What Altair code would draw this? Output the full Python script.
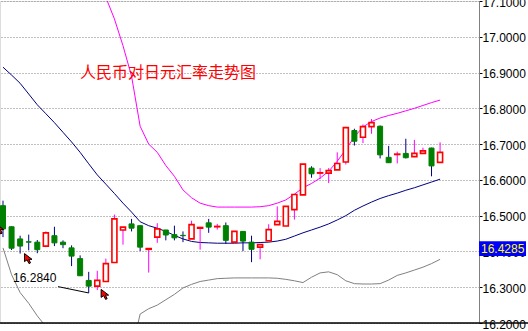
import altair as alt
import pandas as pd

# ---- data ----
opens  = [16.528,16.469,16.435,16.427,16.426,16.415,16.444,16.426,16.410,16.380,
          16.319,16.303,16.316,16.369,16.460,16.477,16.472,16.406,16.440,16.460,
          16.447,16.445,16.435,16.465,16.480,16.469,16.472,16.426,16.456,16.426,
          16.412,16.430,16.475,16.471,16.517,16.558,16.633,16.619,16.619,16.628,
          16.650,16.738,16.719,16.749,16.750,16.663,16.671,16.674,16.665,16.674,
          16.689,16.649]
highs  = [16.542,16.470,16.444,16.447,16.432,16.456,16.469,16.431,16.417,16.389,
          16.343,16.346,16.380,16.503,16.468,16.491,16.472,16.408,16.479,16.460,
          16.472,16.456,16.486,16.467,16.491,16.477,16.481,16.456,16.456,16.444,
          16.419,16.476,16.526,16.527,16.559,16.644,16.638,16.633,16.633,16.677,
          16.746,16.743,16.755,16.770,16.752,16.695,16.679,16.715,16.712,16.690,
          16.690,16.705]
lows   = [16.440,16.404,16.394,16.403,16.395,16.412,16.415,16.409,16.359,16.332,
          16.284,16.292,16.316,16.369,16.419,16.456,16.401,16.341,16.424,16.431,
          16.431,16.426,16.435,16.405,16.452,16.461,16.421,16.426,16.401,16.370,
          16.378,16.430,16.475,16.471,16.489,16.558,16.606,16.603,16.591,16.628,
          16.643,16.696,16.703,16.729,16.660,16.648,16.646,16.660,16.665,16.674,
          16.610,16.649]
closes = [16.463,16.409,16.415,16.426,16.405,16.452,16.424,16.419,16.387,16.332,
          16.303,16.319,16.366,16.491,16.468,16.465,16.412,16.408,16.463,16.446,
          16.438,16.444,16.475,16.467,16.468,16.470,16.431,16.456,16.429,16.406,
          16.419,16.461,16.484,16.526,16.559,16.644,16.617,16.620,16.626,16.646,
          16.746,16.708,16.749,16.760,16.670,16.648,16.672,16.662,16.674,16.681,
          16.639,16.677]

band_upper = [17.40,17.44,17.46,17.45,17.42,17.39,17.36,17.33,17.29,17.25,
              17.21,17.16,17.11,17.05,16.975,16.89,16.75,16.70,16.677,16.64,
              16.61,16.572,16.55,16.535,16.528,16.524,16.524,16.524,16.524,16.524,
              16.525,16.528,16.535,16.544,16.56,16.578,16.59,16.605,16.624,16.652,
              16.685,16.72,16.748,16.763,16.773,16.78,16.786,16.793,16.80,16.808,
              16.816,16.823]
band_mid   = [16.915,16.893,16.870,16.84,16.81,16.785,16.76,16.733,16.706,16.677,
              16.645,16.614,16.588,16.562,16.535,16.51,16.483,16.472,16.465,16.456,
              16.445,16.435,16.428,16.425,16.424,16.423,16.423,16.423,16.424,16.424,
              16.425,16.426,16.429,16.434,16.443,16.452,16.46,16.468,16.477,16.488,
              16.50,16.515,16.527,16.538,16.548,16.556,16.563,16.571,16.578,16.586,
              16.594,16.602]
band_lower = [16.41,16.335,16.285,16.255,16.22,16.19,16.16,16.13,16.10,16.08,
              16.06,16.06,16.07,16.09,16.11,16.12,16.225,16.24,16.25,16.265,
              16.28,16.298,16.308,16.316,16.32,16.324,16.325,16.326,16.326,16.326,
              16.326,16.326,16.325,16.322,16.318,16.313,16.328,16.34,16.343,16.335,
              16.318,16.31,16.309,16.309,16.31,16.32,16.333,16.34,16.348,16.356,
              16.366,16.378]

y_ticks = [16.2, 16.3, 16.4, 16.5, 16.6, 16.7, 16.8, 16.9, 17.0, 17.1]
title_text = "人民币对日元汇率走势图"
low_label = "16.2840"
low_label_pos = [1.17, 16.326]          # index, value of the label
low_line_x = [6.42, 10]                  # leader line from label to the low candle
low_line_y = [16.3017, 16.284]
arrow_idx = [-0.45, 2.86, 11.8]
arrow_val = [16.463, 16.380, 16.280]
last_price = 16.4285
last_price_text = "16.4285"

# ---- tables ----
n = len(opens)
idx = list(range(n))
candles = pd.DataFrame({"i": idx, "o": opens, "h": highs, "l": lows, "c": closes})
candles["dir"] = ["up" if c >= o else "down" for o, c in zip(opens, closes)]
up = candles[candles["dir"] == "up"]
down = candles[candles["dir"] == "down"]

bands = pd.concat([
    pd.DataFrame({"i": idx, "v": band_upper, "band": "upper"}),
    pd.DataFrame({"i": idx, "v": band_mid, "band": "mid"}),
    pd.DataFrame({"i": idx, "v": band_lower, "band": "lower"}),
])

RED = "#FF0000"
GREEN = "#008000"

xs = alt.Scale(domain=[-0.35, 55.54], nice=False, zero=False, padding=0)
ys = alt.Scale(domain=[16.2, 17.1], nice=False, zero=False, padding=0)

yaxis = alt.Axis(orient="right", values=y_ticks, format=".4f", title=None,
                 labelFont="Liberation Sans", labelFontSize=12, labelColor="black",
                 tickSize=3, tickColor="black", domainColor="#808080",
                 grid=True, gridColor="#808080", gridDash=[1, 2], gridWidth=1,
                 labelPadding=0, labelFlush=False, labelOverlap=False,
                 labelBound=False, labelOffset=1)


def X(field):
    return alt.X(field, scale=xs, axis=None)


def Y(field):
    return alt.Y(field, scale=ys, axis=yaxis)


band_lines = alt.Chart(bands).mark_line(strokeWidth=1, clip=True).encode(
    x=X("i:Q"),
    y=Y("v:Q"),
    color=alt.Color("band:N", scale=alt.Scale(domain=["upper", "mid", "lower"],
                                              range=["#FF00FF", "#000080", "#808080"]),
                    legend=None),
    detail="band:N",
)

wicks = alt.Chart(candles).mark_rule(strokeWidth=1, clip=True).encode(
    x=X("i:Q"),
    y=Y("h:Q"),
    y2="l:Q",
    color=alt.Color("dir:N", scale=alt.Scale(domain=["up", "down"], range=[RED, GREEN]),
                    legend=None),
)

up_bodies = alt.Chart(up).mark_bar(size=5, fill="white", stroke=RED, strokeWidth=1.6,
                                   clip=True).encode(
    x=X("i:Q"), y=Y("o:Q"), y2="c:Q",
)

down_bodies = alt.Chart(down).mark_bar(size=5, fill=GREEN, stroke=GREEN, strokeWidth=1,
                                       clip=True).encode(
    x=X("i:Q"), y=Y("o:Q"), y2="c:Q",
)

arrows_df = pd.DataFrame({"i": arrow_idx, "v": arrow_val})
arrow_path = "M-0.6,-1 L-0.6,0.6 L-0.1,0.25 L0.3,1 L0.6,0.85 L0.25,0.15 L0.9,0.15 Z"
arrows = alt.Chart(arrows_df).mark_point(shape=arrow_path, size=100, filled=True,
                                         fill=RED, stroke="black", strokeWidth=1,
                                         opacity=1, clip=True).encode(
    x=X("i:Q"), y=Y("v:Q"),
)

lead_df = pd.DataFrame({"i": low_line_x, "v": low_line_y})
lead = alt.Chart(lead_df).mark_line(color="black", strokeWidth=1).encode(
    x=X("i:Q"), y=Y("v:Q"),
)

low_txt = alt.Chart(pd.DataFrame({"i": [low_label_pos[0]], "v": [low_label_pos[1]],
                                  "t": [low_label]})).mark_text(
    align="left", baseline="middle", font="Liberation Sans", fontSize=12, color="black"
).encode(
    x=X("i:Q"), y=Y("v:Q"), text="t:N",
)

title = alt.Chart(pd.DataFrame({"v": [16.9], "t": [title_text]})).mark_text(
    align="left", baseline="middle", font="Noto Sans CJK SC", fontSize=16, color=RED
).encode(
    x=alt.value(80),
    y=Y("v:Q"),
    text="t:N",
)

bottom_line = alt.Chart(pd.DataFrame({"v": [16.2]})).mark_rule(
    color="black", strokeWidth=1.5).encode(
    x=alt.value(0), x2=alt.value(528),
    y=Y("v:Q"),
)

price_box = alt.Chart(pd.DataFrame({"a": [last_price], "b": [16.387]})).mark_rect(
    color="#0000FF").encode(
    x=alt.value(479), x2=alt.value(526),
    y=Y("a:Q"),
    y2="b:Q",
)

price_txt = alt.Chart(pd.DataFrame({"v": [last_price], "t": [last_price_text]})).mark_text(
    align="left", baseline="middle", dy=7.5, font="Liberation Sans", fontSize=12,
    color="#FFFF00").encode(
    x=alt.value(481),
    y=Y("v:Q"),
    text="t:N",
)

chart = alt.layer(
    band_lines, wicks, up_bodies, down_bodies, arrows, lead, low_txt, title,
    bottom_line, price_box, price_txt
).properties(
    width=479, height=322,
    padding={"top": 1, "left": 0, "right": 49, "bottom": 8},
    autosize=alt.AutoSizeParams(type="none"),
).configure_view(stroke=None).configure(background="white")

chart.save("out.html", embed_options={"renderer": "svg", "actions": False})
